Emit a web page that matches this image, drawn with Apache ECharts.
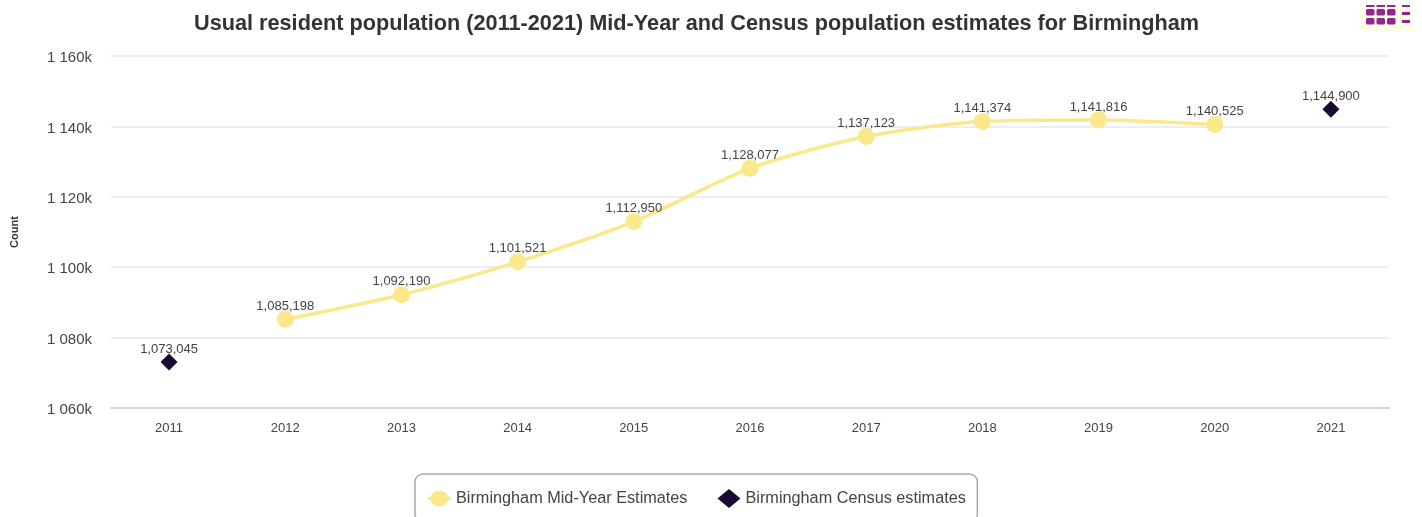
<!DOCTYPE html>
<html><head><meta charset="utf-8">
<style>html,body{margin:0;padding:0;background:#fff;overflow:hidden}#c{width:1422px;height:517px}</style>
<script src="https://cdn.jsdelivr.net/npm/echarts@6/dist/echarts.min.js"></script>
</head><body><div id="c"></div>
<script>
const chartTitle='Usual resident population (2011-2021) Mid-Year and Census population estimates for Birmingham';
const categories=['2011','2012','2013','2014','2015','2016','2017','2018','2019','2020','2021'];
const midYearName='Birmingham Mid-Year Estimates';
const censusName='Birmingham Census estimates';
const midYear=[null,1085198,1092190,1101521,1112950,1128077,1137123,1141374,1141816,1140525,null];
const census=[1073045,null,null,null,null,null,null,null,null,null,1144900];
const yAxisName='Count';
const font='"Liberation Sans", Arial, sans-serif';
const chart=echarts.init(document.getElementById('c'),null,{renderer:'canvas'});
const fmtLabel=p=>p.value==null?'':Number(p.value).toLocaleString('en-US');
const fmtAxis=v=>{const k=String(v/1000);return '{v|'+k.slice(0,1)+' '+k.slice(1)+'k}';};
const purple='#92278f';
const menuParts=[{type:'rect',shape:{x:1359,y:6,width:53,height:26},style:{fill:'#ffffe6'}}];
[1366,1376.5,1387].forEach(x=>{
  menuParts.push({type:'rect',shape:{x:x,y:5,width:8.5,height:2},style:{fill:purple}});
  [9,18].forEach(y=>menuParts.push({type:'rect',shape:{x:x,y:y,width:8.5,height:6.5,r:1.5},style:{fill:purple}}));
});
[[5,2],[12,3],[20,3]].forEach(b=>menuParts.push({type:'rect',shape:{x:1402,y:b[0],width:8,height:b[1]},style:{fill:purple}}));
chart.setOption({
  animation:false,
  backgroundColor:'#fff',
  textStyle:{fontFamily:font},
  title:{text:chartTitle,left:691.5,top:8,textAlign:'center',textStyle:{fontFamily:font,fontSize:21.7,fontWeight:'bold',color:'#333'}},
  grid:{left:111,right:33,top:56,bottom:109,containLabel:false},
  legend:{
    show:true,left:415,top:474,padding:[15,11.5,14,13],itemGap:30,itemWidth:23,itemHeight:19,
    borderColor:'#aaa',borderWidth:1.5,borderRadius:8,backgroundColor:'#fff',
    textStyle:{fontFamily:font,fontSize:16.25,color:'#444'},
    data:[
      {name:midYearName,icon:'path://M0 8H2.5A9.5 9.5 0 0 1 20.5 8H23V11H20.5A9.5 9.5 0 0 1 2.5 11H0Z'},
      {name:censusName,icon:'diamond'}
    ]
  },
  xAxis:{type:'category',data:categories,boundaryGap:true,
    axisLine:{lineStyle:{color:'#ccd6eb',width:2}},axisTick:{show:false},
    axisLabel:{fontFamily:font,fontSize:13,color:'#444',margin:14}},
  yAxis:{type:'value',min:1060000,max:1160000,interval:20000,
    name:yAxisName,nameLocation:'middle',nameGap:91,
    nameTextStyle:{fontFamily:font,fontSize:11,fontWeight:'bold',color:'#333'},
    axisLine:{show:false},axisTick:{show:false},
    splitLine:{lineStyle:{color:'#e6e9ee',width:1.5}},
    axisLabel:{margin:19,formatter:fmtAxis,
      rich:{v:{fontFamily:font,fontSize:15,color:'#444',padding:[4,0,0,0]}}}},
  graphic:[{type:'group',silent:true,children:menuParts}],
  series:[
    {name:midYearName,type:'line',data:midYear,smooth:0.25,connectNulls:false,symbol:'circle',symbolSize:17,
      lineStyle:{color:'#fbe88a',width:3.5},itemStyle:{color:'#fbe88a'},
      label:{show:true,position:'top',distance:-2,fontFamily:font,fontSize:13,color:'#444',formatter:fmtLabel}},
    {name:censusName,type:'line',data:census,symbol:'diamond',symbolSize:17,
      lineStyle:{width:2,color:'#1a0a33'},itemStyle:{color:'#1a0a33'},
      label:{show:true,position:'top',distance:-2,fontFamily:font,fontSize:13,color:'#444',formatter:fmtLabel}}
  ]
});
</script></body></html>
